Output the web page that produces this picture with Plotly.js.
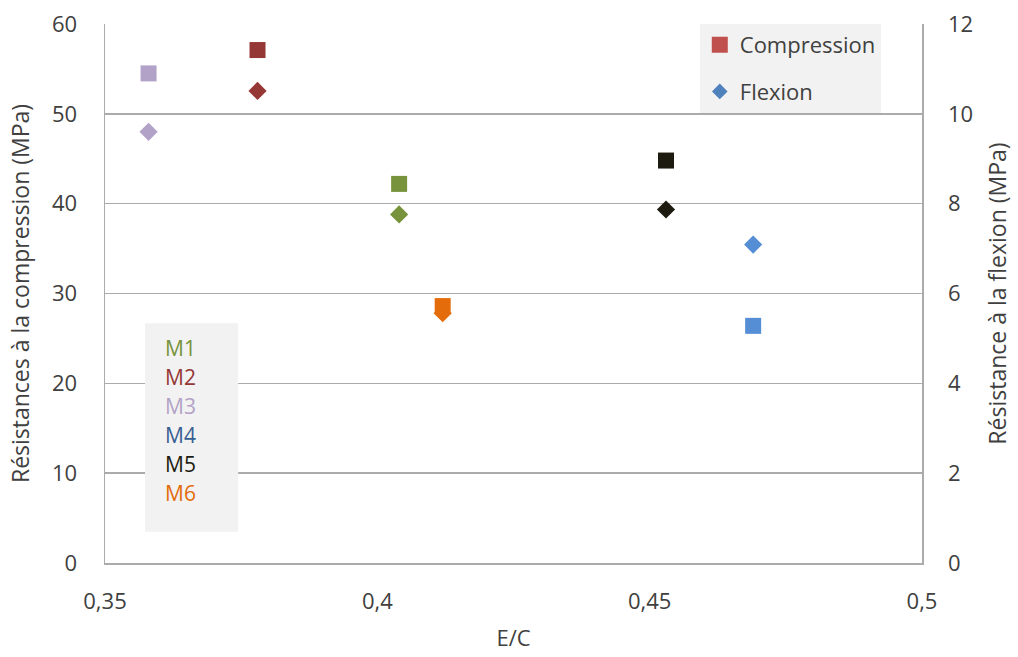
<!DOCTYPE html>
<html>
<head>
<meta charset="utf-8">
<script src="https://cdn.plot.ly/plotly-3.0.1.min.js"></script>
<style>html,body{margin:0;padding:0;background:#fff}#chart{width:1018px;height:657px}</style>
</head>
<body>
<div id="chart"></div>
<script>
// Data
const mixes = ["M1", "M2", "M3", "M4", "M5", "M6"];
const ec = [0.404, 0.378, 0.358, 0.469, 0.453, 0.412];
const compression = [42.2, 57.1, 54.5, 26.4, 44.8, 28.6];   // MPa, left axis
const flexion = [7.76, 10.51, 9.6, 7.09, 7.87, 5.56];        // MPa, right axis
const mixColors = ["#77933C", "#953735", "#B3A2C7", "#558ED5", "#1D1B10", "#E46C0A"];
const mixTextColors = ["#77933C", "#953735", "#B3A2C7", "#376092", "#1D1B10", "#E46C0A"];
const legendNames = ["Compression", "Flexion"];
const legendColors = ["#C0504D", "#4F81BD"];
const xTicks = [0.35, 0.4, 0.45, 0.5];

const FONT = "Open Sans, DejaVu Sans, sans-serif";
const txt = "#404040";
const grid = "#ABABAB";

const traces = [];
mixes.forEach((m, i) => {
  traces.push({
    type: "scatter", mode: "markers", name: m + " compression",
    x: [ec[i]], y: [compression[i]], yaxis: "y",
    marker: {symbol: "square", size: 16, color: mixColors[i]},
    showlegend: false, hoverinfo: "x+y"
  });
});
mixes.forEach((m, i) => {
  traces.push({
    type: "scatter", mode: "markers", name: m + " flexion",
    x: [ec[i]], y: [flexion[i]], yaxis: "y2",
    marker: {symbol: "diamond", size: 14, color: mixColors[i]},
    showlegend: false, hoverinfo: "x+y"
  });
});
// legend-only entries
traces.push({type: "scatter", mode: "markers", name: legendNames[0], x: [null], y: [null],
  marker: {symbol: "square", size: 16, color: legendColors[0]}, legendgroup: "a"});
traces.push({type: "scatter", mode: "markers", name: legendNames[1], x: [null], y: [null], yaxis: "y2",
  marker: {symbol: "diamond", size: 12, color: legendColors[1]}, legendgroup: "b"});

const annotations = mixes.map((m, i) => ({
  xref: "paper", yref: "paper", x: 0.071, y: 0.399 - i * 29 / 540,
  xanchor: "left", yanchor: "middle", showarrow: false, text: m,
  font: {family: FONT, size: 21, color: mixTextColors[i]}
}));

const layout = {
  width: 1018, height: 657,
  margin: {l: 105, r: 96, t: 23.5, b: 93.5},
  paper_bgcolor: "#fff", plot_bgcolor: "#fff",
  separators: ", ",
  font: {family: FONT, size: 22, color: txt},
  showlegend: true,
  legend: {
    x: 0.728, y: 1, xanchor: "left", yanchor: "top",
    bgcolor: "#F2F2F2", borderwidth: 0,
    font: {family: FONT, size: 22, color: txt},
    traceorder: "grouped", tracegroupgap: 15, itemwidth: 30
  },
  xaxis: {
    range: [0.35, 0.5], tickvals: xTicks, tickformat: ".2~f",
    showgrid: false, zeroline: false,
    showline: true, linecolor: grid, linewidth: 1.5,
    ticks: "", ticklabelstandoff: 18,
    tickfont: {family: FONT, size: 22, color: txt},
    title: {text: "E/C", font: {family: FONT, size: 22, color: txt}, standoff: 16}
  },
  yaxis: {
    range: [0, 60], dtick: 10, tick0: 0,
    showgrid: true, gridcolor: grid, gridwidth: 1.5,
    zeroline: false, showline: true, linecolor: grid, linewidth: 1.5,
    ticks: "", ticklabelstandoff: 22,
    tickfont: {family: FONT, size: 22, color: txt},
    title: {text: "Résistances à la compression (MPa)", font: {family: FONT, size: 23, color: txt}, standoff: 16}
  },
  yaxis2: {
    range: [0, 12], dtick: 2, tick0: 0, overlaying: "y", side: "right",
    showgrid: false, zeroline: false, showline: true, linecolor: grid, linewidth: 1.5,
    ticks: "", ticklabelstandoff: 20,
    tickfont: {family: FONT, size: 22, color: txt},
    title: {text: "Résistance à la flexion (MPa)", font: {family: FONT, size: 23, color: txt}, standoff: 18}
  },
  shapes: [{
    type: "rect", xref: "paper", yref: "paper", layer: "above",
    x0: 0.049, x1: 0.163, y0: 0.058, y1: 0.445,
    fillcolor: "#F2F2F2", line: {width: 0}
  }],
  annotations: annotations
};

Plotly.newPlot("chart", traces, layout, {displayModeBar: false, staticPlot: true});
</script>
</body>
</html>
